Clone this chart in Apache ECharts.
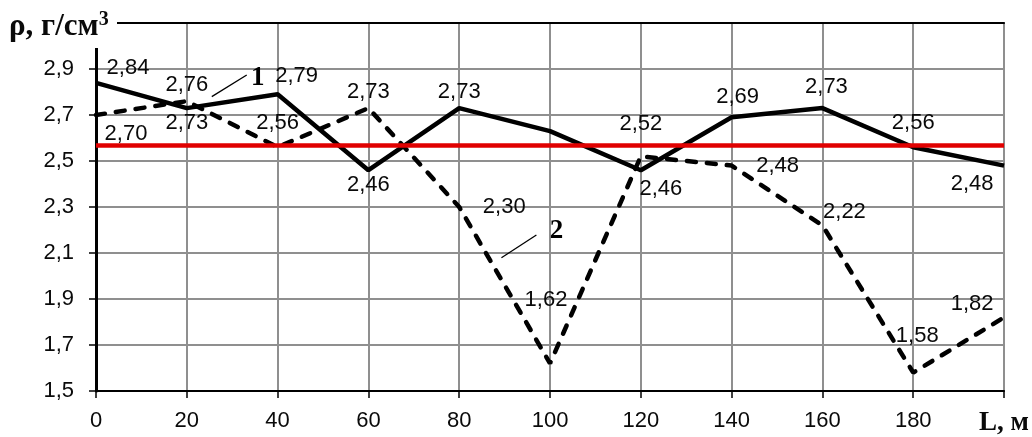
<!DOCTYPE html>
<html><head><meta charset="utf-8">
<script src="https://cdn.jsdelivr.net/npm/echarts@6/dist/echarts.min.js"></script>
<style>html,body{margin:0;padding:0;background:#fff}#c{width:1032px;height:437px}</style>
</head><body><div id="c"></div>
<script>
// ---- data ----
const L = [0, 20, 40, 60, 80, 100, 120, 140, 160, 180, 200];
const rho1 = [2.84, 2.73, 2.79, 2.46, 2.73, 2.63, 2.46, 2.69, 2.73, 2.56, 2.48];
const rho2 = [2.70, 2.76, 2.56, 2.73, 2.30, 1.62, 2.52, 2.48, 2.22, 1.58, 1.82];
const rhoMean = 2.57;
const yTicks = [1.5, 1.7, 1.9, 2.1, 2.3, 2.5, 2.7, 2.9];
const xTicks = [0, 20, 40, 60, 80, 100, 120, 140, 160, 180];

// ---- label placement (style, not data) ----
const off1 = [[32,-15],[0,15],[19,-18],[0,15],[0,-16],null,[20,19],[6,-20],[4,-21],[0,-24],[-32,18]];
const off2 = [[30,19],[0,-16],[0,-24],[0,-16],[45,0],[-4,-63],[0,-32],[46,0],[22,-13],[4,-37],[-32,-13]];

const fmt = v => v.toFixed(2).replace('.', ',');
const sans = 'Liberation Sans, Arial, sans-serif';
const serif = 'Liberation Serif, Times New Roman, serif';

function build(vals, offs) {
  return vals.map((v, i) => ({
    value: [L[i], v],
    label: offs[i] ? { show: true, offset: offs[i] } : { show: false }
  }));
}
const labelStyle = {
  position: 'inside', fontFamily: sans, fontSize: 22, color: '#0a0a0a',
  formatter: p => fmt(p.value[1])
};
const grey = { color: '#8f8f8f', width: 2 };

const chart = echarts.init(document.getElementById('c'), null, { renderer: 'canvas' });
chart.setOption({
  animation: false,
  backgroundColor: '#fff',
  grid: { left: 96, right: 27, top: 23, bottom: 44 },
  xAxis: [{
    type: 'value', min: 0, max: 200, interval: 20,
    axisLine: { show: true, onZero: false, lineStyle: { color: '#000', width: 2 } },
    axisTick: { show: true, length: 7, lineStyle: { color: '#000', width: 1.5 } },
    axisLabel: {
      margin: 19, fontFamily: sans, fontSize: 22, color: '#0a0a0a',
      formatter: v => v === 200 ? '{n|L, м}' : (xTicks.includes(v) ? String(v) : ''),
      rich: { n: { fontFamily: serif, fontWeight: 'bold', fontSize: 27, color: '#0a0a0a' } }
    },
    splitLine: { show: true, lineStyle: grey }
  }, {
    type: 'value', min: 0, max: 200, interval: 20, position: 'top',
    axisLine: { show: true, lineStyle: { color: '#000', width: 2 } },
    axisTick: { show: false }, axisLabel: { show: false }, splitLine: { show: false }
  }],
  yAxis: [{
    type: 'value', min: 1.5, max: 3.1, interval: 0.2,
    axisLine: { show: true, onZero: false, lineStyle: { color: '#000', width: 3 } },
    axisTick: { show: true, length: 7, lineStyle: { color: '#000', width: 1.5 } },
    axisLabel: {
      margin: 22, fontFamily: sans, fontSize: 22, color: '#0a0a0a',
      formatter: v => {
        const t = yTicks.find(x => Math.abs(x - v) < 1e-6);
        return t === undefined ? '' : t.toFixed(1).replace('.', ',');
      }
    },
    splitLine: { show: true, lineStyle: grey }
  }, {
    type: 'value', min: 1.5, max: 3.1, interval: 0.2, position: 'right',
    axisLine: { show: true, lineStyle: { color: '#000', width: 2 } },
    axisTick: { show: false }, axisLabel: { show: false }, splitLine: { show: false }
  }],
  series: [{
    name: '1', type: 'line', data: build(rho1, off1),
    symbol: 'circle', symbolSize: 0, showSymbol: true,
    lineStyle: { color: '#000', width: 4.5 }, itemStyle: { color: '#000' },
    label: labelStyle, z: 3,
    markLine: {
      silent: true, symbol: 'none', label: { show: false },
      data: [
        { yAxis: rhoMean, lineStyle: { color: '#e00000', width: 4.5, type: 'solid' } },
        [{ coord: [25.5, 2.78] }, { coord: [33.2, 2.874] }],
        [{ coord: [89.3, 2.079] }, { coord: [97.0, 2.178] }]
      ],
      lineStyle: { color: '#000', width: 1.3, type: 'solid' }
    },
    markPoint: {
      silent: true, symbol: 'circle', symbolSize: 0,
      label: { show: true, position: 'inside', fontFamily: serif, fontWeight: 'bold', fontSize: 27, color: '#000',
        formatter: p => p.name },
      data: [
        { name: '1', coord: [35.6, 2.862] },
        { name: '2', coord: [101.4, 2.196] }
      ]
    }
  }, {
    name: '2', type: 'line', data: build(rho2, off2),
    symbol: 'circle', symbolSize: 0, showSymbol: true,
    lineStyle: { color: '#000', width: 4.5, type: [9, 11], cap: 'round' }, itemStyle: { color: '#000' },
    label: labelStyle, z: 2
  }],
  graphic: [
    { type: 'rect', left: 0, top: 0, shape: { width: 117, height: 48 }, style: { fill: '#fff' }, z: 100 },
    { type: 'text', left: 9, top: 10, z: 101,
      style: { text: '{a|ρ, г/см}{s|3}', rich: {
        a: { fontFamily: serif, fontWeight: 'bold', fontSize: 31, fill: '#0a0a0a' },
        s: { fontFamily: serif, fontWeight: 'bold', fontSize: 20, fill: '#0a0a0a', verticalAlign: 'top', padding: [0,0,14,0] }
      } } }
  ]
});
</script></body></html>
